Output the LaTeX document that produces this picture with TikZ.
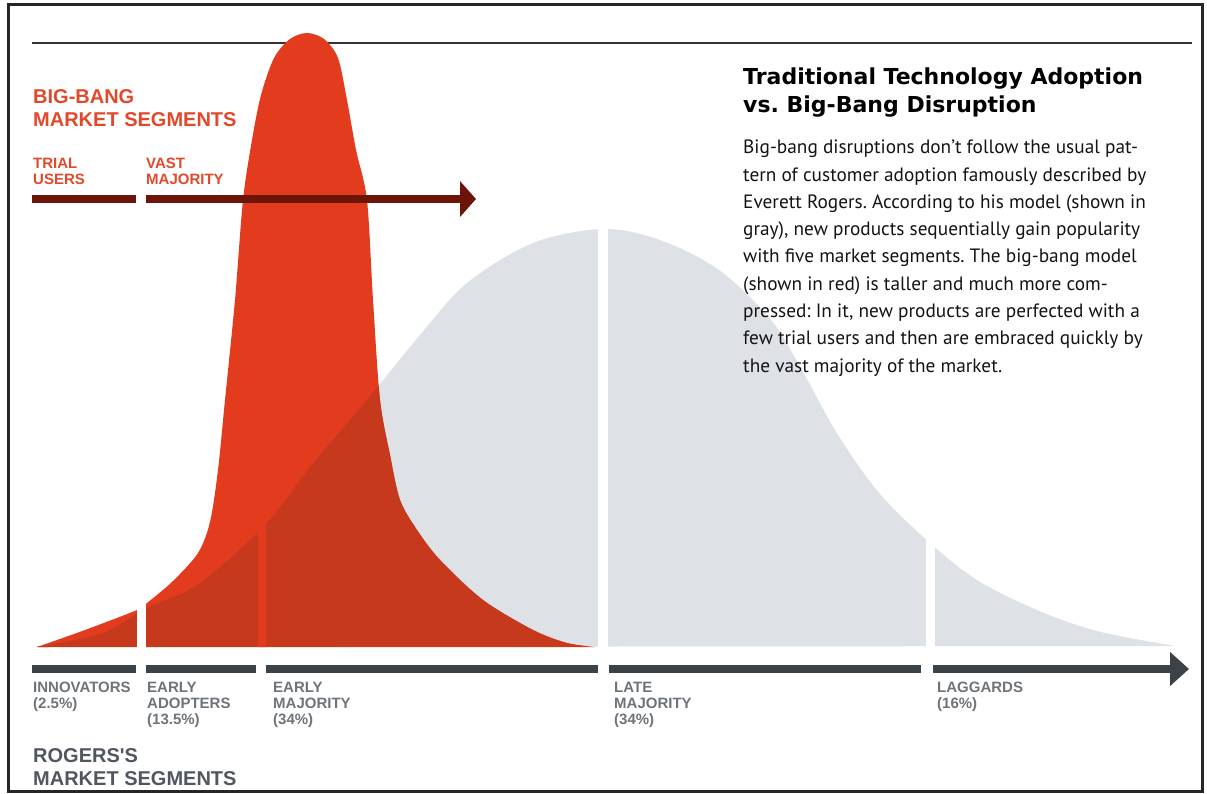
\documentclass[tikz,border=0pt]{standalone}
\usepackage{fontspec}
\setmainfont{PT Sans}
\newfontfamily\titlefont{DejaVu Sans}
\newfontfamily\segfont{Liberation Sans}
\usetikzlibrary{arrows.meta,positioning}
\frenchspacing

\definecolor{bellgray}{HTML}{DEE2E7}
\definecolor{bellred}{HTML}{E23B1E}
\definecolor{overlapred}{HTML}{C6391D}
\definecolor{arrowred}{HTML}{6C1407}
\definecolor{axisgray}{HTML}{3B4248}
\definecolor{seggray}{HTML}{6E747A}
\definecolor{headgray}{HTML}{50575E}
\definecolor{labelred}{HTML}{E2492B}

\tikzset{
  segbar/.style={draw=axisgray, line width=8pt},
  redbar/.style={draw=arrowred, line width=8pt},
  seglabel/.style={anchor=north west, inner sep=0pt, align=left, text=seggray,
    font=\segfont\bfseries\fontsize{15}{16}\selectfont},
  redlabel/.style={anchor=north west, inner sep=0pt, align=left, text=labelred,
    font=\segfont\bfseries\fontsize{15}{15.5}\selectfont},
  bighead/.style={anchor=north west, inner sep=0pt, align=left,
    font=\segfont\bfseries\fontsize{20}{23.5}\selectfont}
}

% curves, pixel coordinates
\newcommand{\graybell}{plot[smooth, tension=0.55] coordinates {
  (35,647) (100,634) (147,608) (200,583) (267,523) (310,467) (367,400)
  (420,335) (467,283) (533,243) (603,229) (660,240) (719,270) (771,320)
  (803,372) (838,435) (880,494) (930,543) (977,580) (1037,610) (1097,631)
  (1175,646)} -- cycle}
\newcommand{\redbell}{plot[smooth, tension=0.5] coordinates {
  (37,647) (85,630) (137,610) (147,603) (173,581) (198,553) (210,522)
  (218,470) (225,400) (235,300) (243,200) (252,140) (261,95) (274,58)
  (290,39) (307,33) (324,39) (338,58) (347,100) (356,150) (367,200)
  (373,300) (380,400) (390,455) (400,500) (417,530) (440,560) (483,600)
  (533,630) (567,643) (595,647)} -- cycle}

\begin{document}
\begin{tikzpicture}[x=1pt, y=-1pt]
  \useasboundingbox (0,0) rectangle (1207,793);
  \fill[white] (0,0) rectangle (1207,793);

  % top rule
  \coordinate (ruleL) at (32,43);
  \coordinate (ruleR) at (1192,43);
  \draw[line width=2pt, black!80] (ruleL) -- (ruleR);

  % Rogers's bell
  \fill[bellgray] \graybell;
  \fill[white] (598,200) rectangle (608,650);
  \fill[white] (926,200) rectangle (935,650);

  % big-bang bell, darker where it lies over the gray one
  \fill[bellred] \redbell;
  \begin{scope}
    \clip \graybell;
    \fill[overlapred] \redbell;
  \end{scope}
  \begin{scope}
    \clip \redbell;
    \fill[bellred] (258,400) rectangle (266,650);
  \end{scope}
  \fill[white] (137,500) rectangle (146,650);

  % big-bang segments
  \coordinate (trialL) at (32,199);
  \coordinate (trialR) at (136,199);
  \coordinate (vastL) at (146,199);
  \coordinate (vastR) at (476,199);
  \draw[redbar] (trialL) -- (trialR);
  \draw[redbar, -{Triangle[length=16pt, width=35pt]}] (vastL) -- (vastR);

  \node[redlabel] (trial) at (33,158) {TRIAL\\USERS};
  \node[redlabel] (vast) at (146,158) {VAST\\MAJORITY};
  \node[bighead, text=labelred] (bbhead) at (33,89) {BIG-BANG\\MARKET SEGMENTS};

  % Rogers's segments
  \coordinate (s1) at (32,669);
  \coordinate (e1) at (136,669);
  \coordinate (s2) at (146,669);
  \coordinate (e2) at (256,669);
  \coordinate (s3) at (266,669);
  \coordinate (e3) at (598,669);
  \coordinate (s4) at (609,669);
  \coordinate (e4) at (921,669);
  \coordinate (s5) at (933,669);
  \coordinate (e5) at (1189,669);
  \foreach \i in {1,...,4}
    \draw[segbar] (s\i) -- (e\i);
  \draw[segbar, -{Triangle[length=19pt, width=33pt]}] (s5) -- (e5);

  \node[seglabel] (innov) at (33,682) {INNOVATORS\\(2.5\%)};
  \node[seglabel] (adopt) at (147,682) {EARLY\\ADOPTERS\\(13.5\%)};
  \node[seglabel] (earlymaj) at (273,682) {EARLY\\MAJORITY\\(34\%)};
  \node[seglabel] (latemaj) at (614,682) {LATE\\MAJORITY\\(34\%)};
  \node[seglabel] (lagg) at (937,682) {LAGGARDS\\(16\%)};
  \node[bighead, text=headgray] (rogers) at (33,748) {ROGERS'S\\MARKET SEGMENTS};

  % explanation
  \node[anchor=north west, inner sep=0pt, align=left,
    font=\titlefont\bfseries\fontsize{22}{28}\selectfont] (title) at (743,68)
    {Traditional Technology Adoption\\vs. Big-Bang Disruption};
  \node[inner sep=0pt, align=left, text=black!92,
    font=\fontsize{19.3}{27.3}\selectfont, below=22pt of title.south west, anchor=north west] (blurb)
    {Big-bang disruptions don’t follow the usual pat-\\
     tern of customer adoption famously described by\\
     Everett Rogers. According to his model (shown in\\
     gray), new products sequentially gain popularity\\
     with five market segments. The big-bang model\\
     (shown in red) is taller and much more com-\\
     pressed: In it, new products are perfected with a\\
     few trial users and then are embraced quickly by\\
     the vast majority of the market.};

  % frame
  \draw[line width=3pt, black!85] (8,4) rectangle (1202,791);
\end{tikzpicture}
\end{document}
